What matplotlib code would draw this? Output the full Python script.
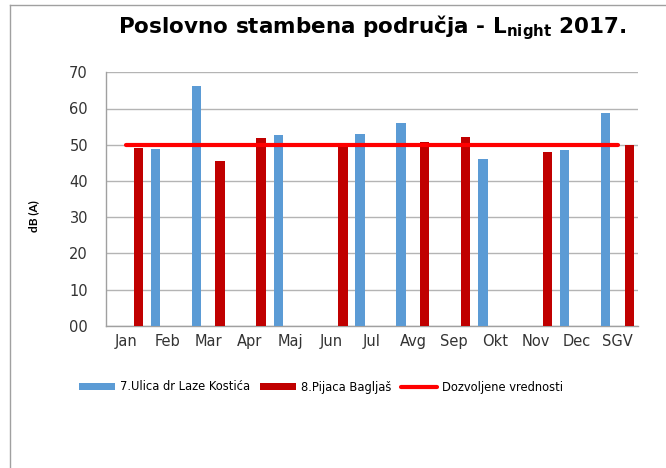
import numpy as np
import matplotlib
matplotlib.use("Agg")
import matplotlib.pyplot as plt
from matplotlib.lines import Line2D

categories = ["Jan", "Feb", "Mar", "Apr", "Maj", "Jun", "Jul", "Avg", "Sep", "Okt", "Nov", "Dec", "SGV"]
ulica = [np.nan, 48.7, 66.3, np.nan, 52.8, np.nan, 53.0, 55.9, np.nan, 46.0, np.nan, 48.5, 58.7]
pijaca = [49.0, np.nan, 45.5, 51.9, np.nan, 49.8, np.nan, 50.8, 52.2, np.nan, 47.9, np.nan, 50.0]
limit = [50] * 13
yticks = [0, 10, 20, 30, 40, 50, 60, 70]
ytick_labels = ["00", "10", "20", "30", "40", "50", "60", "70"]

plt.rcParams['mathtext.fontset'] = 'dejavusans'

W, H = 666, 468
fig = plt.figure(figsize=(W / 100, H / 100), dpi=100)
ax = fig.add_axes([106 / W, 1 - 325.7 / H, (638 - 106) / W, (325.7 - 72.3) / H])

x = np.arange(len(categories))
off = 0.29
bw = 0.23
b1 = ax.bar(x - off, ulica, width=bw, color="#5B9BD5", label="7.Ulica dr Laze Kostića", zorder=3)
b2 = ax.bar(x + off, pijaca, width=bw, color="#C00000", label="8.Pijaca Bagljaš", zorder=3)
l1, = ax.plot(x, limit, color="#FF0000", lw=3, label="Dozvoljene vrednosti", zorder=4, solid_capstyle='round')

ax.set_xlim(-0.5, len(categories) - 0.5)
ax.set_ylim(0, 70)
ax.set_yticks(yticks)
ax.set_yticklabels(ytick_labels, fontsize=10.5, color="#333333")
ax.set_xticks(x)
ax.set_xticklabels(categories, fontsize=10.5, color="#333333")
ax.tick_params(axis='y', length=0, pad=13)
ax.tick_params(axis='x', length=0, pad=6)
ax.grid(axis='y', color="#b4b4b4", lw=1, zorder=0)
for s in ["top", "right"]:
    ax.spines[s].set_visible(False)
for s in ["left", "bottom"]:
    ax.spines[s].set_color("#a0a0a0")
    ax.spines[s].set_linewidth(1)

fig.text(34 / W, 1 - 216 / H, "dB (A)", rotation=90, ha="center", va="center",
         fontsize=8.5, family="Lato", fontweight="bold")

fig.text(372 / W, 1 - 28 / H, r"Poslovno stambena područja - L$_{\mathbf{night}}$ 2017.",
         ha="center", va="center", fontsize=15.5, fontweight="bold", family="DejaVu Sans")

leg = fig.legend([b1, b2, l1], ["7.Ulica dr Laze Kostića", "8.Pijaca Bagljaš", "Dozvoljene vrednosti"],
                 loc="center", bbox_to_anchor=(321 / W, 1 - 387 / H), ncol=3, frameon=False,
                 prop={"family": "DejaVu Sans", "size": 8.3}, handlelength=3.1, handleheight=0.55,
                 columnspacing=0.85, handletextpad=0.45)

fig.add_artist(Line2D([9.5 / W, 1], [1 - 4.5 / H] * 2, color="#a0a0a0", lw=1))
fig.add_artist(Line2D([9.5 / W] * 2, [0, 1 - 4.5 / H], color="#a0a0a0", lw=1))

fig.savefig("out.png", dpi=100)
